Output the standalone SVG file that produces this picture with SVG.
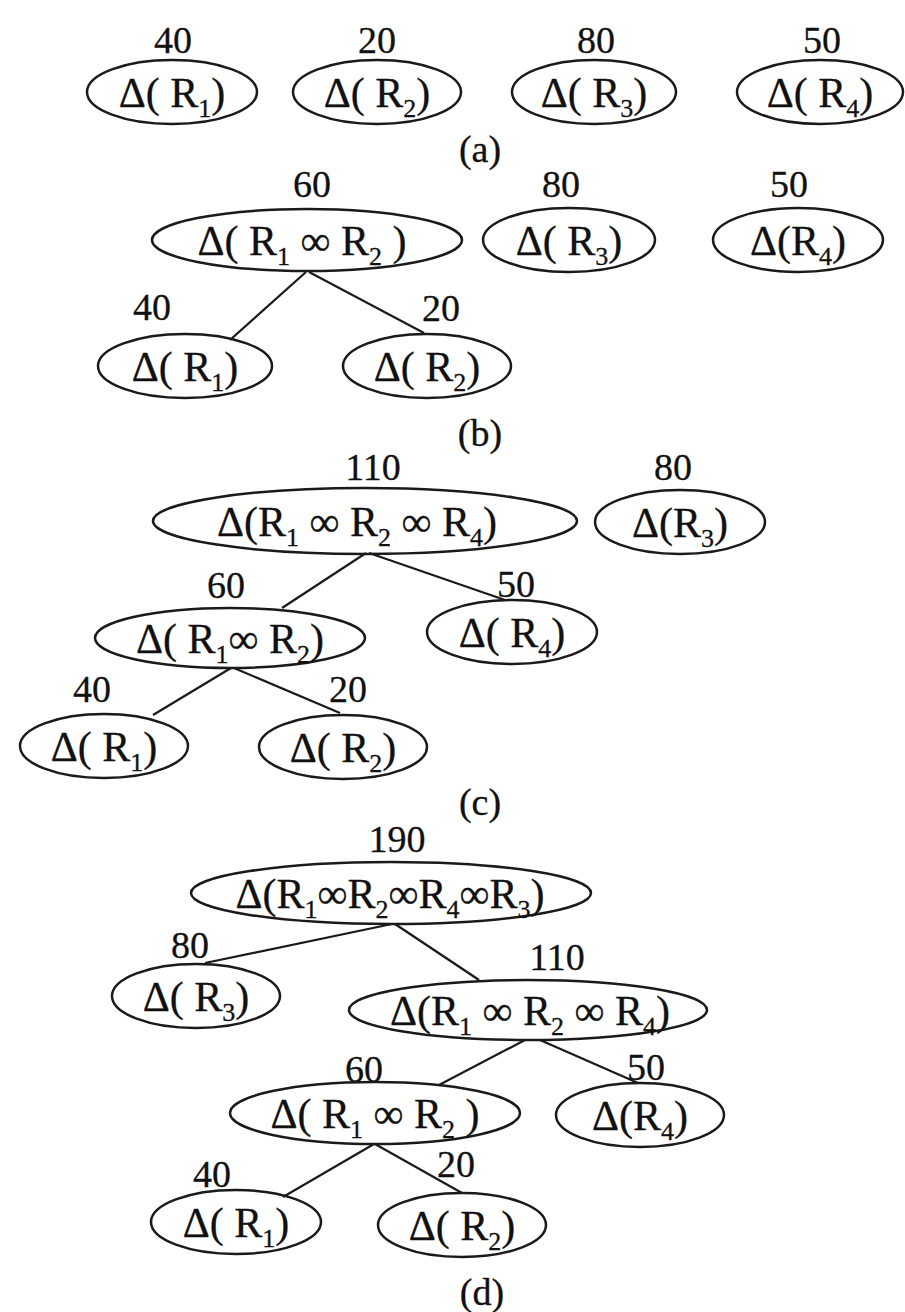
<svg xmlns="http://www.w3.org/2000/svg" width="905" height="1312" viewBox="0 0 905 1312">
<style>
  .bg{fill:#ffffff}
  ellipse{fill:none;stroke:#1a1a1a;stroke-width:2.5}
  .edges line{stroke:#1a1a1a;stroke-width:2.2}
  text{font-family:"Liberation Serif","DejaVu Serif",serif;fill:#111;text-anchor:middle;stroke:#111;stroke-width:0.3}
  .n{font-size:42px}
  .w{font-size:38px}
  .s{font-size:26px}
  .cap{font-size:38px}
</style>
<rect class="bg" x="0" y="0" width="905" height="1312"/>

<!-- (a) -->
<g id="a-R1"><text class="w" x="173" y="53">40</text><ellipse cx="172" cy="92" rx="85" ry="32"/><text class="n" x="172" y="107">Δ( R<tspan class="s" dy="10">1</tspan><tspan dy="-10">)</tspan></text></g>
<g id="a-R2"><text class="w" x="377" y="53">20</text><ellipse cx="377" cy="92" rx="84" ry="32"/><text class="n" x="377" y="107">Δ( R<tspan class="s" dy="10">2</tspan><tspan dy="-10">)</tspan></text></g>
<g id="a-R3"><text class="w" x="596" y="53">80</text><ellipse cx="594" cy="92" rx="82" ry="32"/><text class="n" x="594" y="107">Δ( R<tspan class="s" dy="10">3</tspan><tspan dy="-10">)</tspan></text></g>
<g id="a-R4"><text class="w" x="822" y="53">50</text><ellipse cx="820" cy="92" rx="83" ry="32"/><text class="n" x="820" y="107">Δ( R<tspan class="s" dy="10">4</tspan><tspan dy="-10">)</tspan></text></g>
<text class="cap" x="480" y="162">(a)</text>

<!-- connectors -->
<g id="connectors" class="edges">
  <line x1="306" y1="272" x2="230" y2="340"/>
  <line x1="309" y1="272" x2="424" y2="333"/>
  <line x1="366" y1="553" x2="282" y2="608"/>
  <line x1="369" y1="553" x2="505" y2="600"/>
  <line x1="231" y1="668" x2="153" y2="715"/>
  <line x1="234" y1="668" x2="340" y2="713"/>
  <line x1="392" y1="924" x2="205" y2="963"/>
  <line x1="395" y1="924" x2="479" y2="980"/>
  <line x1="525" y1="1040" x2="439" y2="1085"/>
  <line x1="540" y1="1040" x2="638" y2="1083"/>
  <line x1="374" y1="1144" x2="283" y2="1197"/>
  <line x1="375" y1="1144" x2="462" y2="1193"/>
</g>

<!-- (b) -->
<g id="b-R1R2"><text class="w" x="312" y="197">60</text><ellipse cx="307" cy="240" rx="155" ry="31"/><text class="n" x="302" y="255">Δ( R<tspan class="s" dy="10">1</tspan><tspan dy="-10"> ∞ R</tspan><tspan class="s" dy="10">2</tspan><tspan dy="-10"> )</tspan></text></g>
<g id="b-R3"><text class="w" x="561" y="197">80</text><ellipse cx="569" cy="240" rx="86" ry="32"/><text class="n" x="569" y="255">Δ( R<tspan class="s" dy="10">3</tspan><tspan dy="-10">)</tspan></text></g>
<g id="b-R4"><text class="w" x="789" y="197">50</text><ellipse cx="798" cy="240" rx="85" ry="32"/><text class="n" x="798" y="255">Δ(R<tspan class="s" dy="10">4</tspan><tspan dy="-10">)</tspan></text></g>
<g id="b-R1"><text class="w" x="152" y="320">40</text><ellipse cx="185" cy="366" rx="87" ry="32"/><text class="n" x="185" y="381">Δ( R<tspan class="s" dy="10">1</tspan><tspan dy="-10">)</tspan></text></g>
<g id="b-R2"><text class="w" x="441" y="321">20</text><ellipse cx="427" cy="366" rx="84" ry="32"/><text class="n" x="427" y="381">Δ( R<tspan class="s" dy="10">2</tspan><tspan dy="-10">)</tspan></text></g>
<text class="cap" x="480" y="446">(b)</text>

<!-- (c) -->
<g id="c-R1R2R4"><text class="w" x="373" y="480">110</text><ellipse cx="365" cy="521" rx="212" ry="33"/><text class="n" x="357" y="536">Δ(R<tspan class="s" dy="10">1</tspan><tspan dy="-10"> ∞ R</tspan><tspan class="s" dy="10">2</tspan><tspan dy="-10"> ∞ R</tspan><tspan class="s" dy="10">4</tspan><tspan dy="-10">)</tspan></text></g>
<g id="c-R3"><text class="w" x="673" y="480">80</text><ellipse cx="680" cy="522" rx="85" ry="32"/><text class="n" x="680" y="537">Δ(R<tspan class="s" dy="10">3</tspan><tspan dy="-10">)</tspan></text></g>
<g id="c-R1R2"><text class="w" x="226" y="598">60</text><ellipse cx="230" cy="638" rx="135" ry="30"/><text class="n" x="230" y="653">Δ( R<tspan class="s" dy="10">1</tspan><tspan dy="-10">∞ R</tspan><tspan class="s" dy="10">2</tspan><tspan dy="-10">)</tspan></text></g>
<g id="c-R4"><text class="w" x="516" y="597">50</text><ellipse cx="512" cy="632" rx="85" ry="32"/><text class="n" x="512" y="647">Δ( R<tspan class="s" dy="10">4</tspan><tspan dy="-10">)</tspan></text></g>
<g id="c-R1"><text class="w" x="92" y="702">40</text><ellipse cx="104" cy="746" rx="84" ry="32"/><text class="n" x="104" y="761">Δ( R<tspan class="s" dy="10">1</tspan><tspan dy="-10">)</tspan></text></g>
<g id="c-R2"><text class="w" x="348" y="702">20</text><ellipse cx="343" cy="747" rx="84" ry="32"/><text class="n" x="343" y="762">Δ( R<tspan class="s" dy="10">2</tspan><tspan dy="-10">)</tspan></text></g>
<text class="cap" x="480" y="815">(c)</text>

<!-- (d) -->
<g id="d-R1R2R4R3"><text class="w" x="397" y="852">190</text><ellipse cx="391" cy="893" rx="200" ry="31"/><text class="n" x="390" y="908">Δ(R<tspan class="s" dy="10">1</tspan><tspan dy="-10">∞R</tspan><tspan class="s" dy="10">2</tspan><tspan dy="-10">∞R</tspan><tspan class="s" dy="10">4</tspan><tspan dy="-10">∞R</tspan><tspan class="s" dy="10">3</tspan><tspan dy="-10">)</tspan></text></g>
<g id="d-R3"><text class="w" x="190" y="958">80</text><ellipse cx="196" cy="996" rx="84" ry="32"/><text class="n" x="196" y="1011">Δ( R<tspan class="s" dy="10">3</tspan><tspan dy="-10">)</tspan></text></g>
<g id="d-R1R2R4"><text class="w" x="557" y="970">110</text><ellipse cx="528" cy="1010" rx="179" ry="30"/><text class="n" x="530" y="1025">Δ(R<tspan class="s" dy="10">1</tspan><tspan dy="-10"> ∞ R</tspan><tspan class="s" dy="10">2</tspan><tspan dy="-10"> ∞ R</tspan><tspan class="s" dy="10">4</tspan><tspan dy="-10">)</tspan></text></g>
<g id="d-R1R2"><text class="w" x="364" y="1082">60</text><ellipse cx="375" cy="1113" rx="145" ry="31"/><text class="n" x="375" y="1128">Δ( R<tspan class="s" dy="10">1</tspan><tspan dy="-10"> ∞ R</tspan><tspan class="s" dy="10">2</tspan><tspan dy="-10"> )</tspan></text></g>
<g id="d-R4"><text class="w" x="646" y="1080">50</text><ellipse cx="640" cy="1115" rx="84" ry="32"/><text class="n" x="640" y="1130">Δ(R<tspan class="s" dy="10">4</tspan><tspan dy="-10">)</tspan></text></g>
<g id="d-R1"><text class="w" x="212" y="1187">40</text><ellipse cx="236" cy="1222" rx="85" ry="32"/><text class="n" x="236" y="1237">Δ( R<tspan class="s" dy="10">1</tspan><tspan dy="-10">)</tspan></text></g>
<g id="d-R2"><text class="w" x="456" y="1177">20</text><ellipse cx="462" cy="1225" rx="84" ry="32"/><text class="n" x="462" y="1240">Δ( R<tspan class="s" dy="10">2</tspan><tspan dy="-10">)</tspan></text></g>
<text class="cap" x="482" y="1305">(d)</text>
</svg>
